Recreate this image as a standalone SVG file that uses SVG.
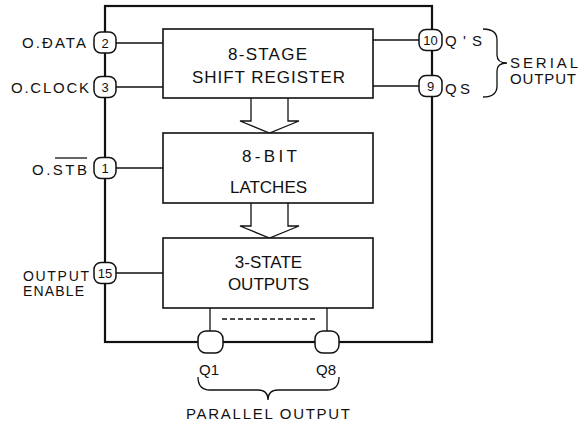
<svg xmlns="http://www.w3.org/2000/svg" width="580" height="429" viewBox="0 0 580 429">
<style>
text{font-family:"Liberation Sans",Arial,sans-serif;fill:#111;}
.t{font-size:17px;}
.c{font-size:17px;text-anchor:middle;}
.l{font-size:15px;}
.s{font-size:14px;}
.n{font-size:13px;text-anchor:middle;}
.box{fill:#fff;stroke:#111;stroke-width:1.6;}
.pin{fill:#fff;stroke:#111;stroke-width:1.5;}
.ln{fill:none;stroke:#111;stroke-width:1.3;}
.outer{fill:none;stroke:#111;stroke-width:2.2;}
</style>
<rect class="outer" x="105" y="6" width="327" height="336"/>
<g id="connectors">
<line class="ln" x1="116" y1="43" x2="163" y2="43"/>
<line class="ln" x1="116" y1="87" x2="163" y2="87"/>
<line class="ln" x1="116" y1="168" x2="163" y2="168"/>
<line class="ln" x1="116" y1="273" x2="163" y2="273"/>
<line class="ln" x1="373" y1="40" x2="419" y2="40"/>
<line class="ln" x1="373" y1="86" x2="419" y2="86"/>
<line class="ln" x1="210" y1="308" x2="210" y2="331"/>
<line class="ln" x1="327" y1="308" x2="327" y2="331"/>
<line class="ln" x1="222" y1="319" x2="315" y2="319" stroke-dasharray="5,3"/>
<path class="ln" fill="#fff" d="M251 98 V121 H240 L269.5 133 L299 121 H288 V98"/>
<path class="ln" fill="#fff" d="M251 203 V226 H240 L269.5 238 L299 226 H288 V203"/>
</g>
<g id="shift-register">
<rect class="box" x="163" y="29" width="210" height="69"/>
<text class="t" x="228" y="60" textLength="79">8-STAGE</text>
<text class="t" x="192" y="83" textLength="153">SHIFT REGISTER</text>
</g>
<g id="latches">
<rect class="box" x="163" y="133" width="210" height="70"/>
<text class="t" x="242" y="162" textLength="55">8-BIT</text>
<text class="c" x="268.5" y="193">LATCHES</text>
</g>
<g id="outputs">
<rect class="box" x="163" y="238" width="210" height="70"/>
<text class="c" x="268.5" y="268">3-STATE</text>
<text class="c" x="268.5" y="290">OUTPUTS</text>
</g>
<g id="pin2">
<rect class="pin" x="94" y="32" width="22" height="21" rx="7"/>
<text class="n" x="105" y="47.5">2</text>
<text class="l" x="22" y="48" textLength="64">O.ĐATA</text>
</g>
<g id="pin3">
<rect class="pin" x="94" y="76.5" width="22" height="21" rx="7"/>
<text class="n" x="105" y="92">3</text>
<text class="l" x="11" y="93" textLength="78">O.CLOCK</text>
</g>
<g id="pin1">
<rect class="pin" x="94" y="157.5" width="22" height="21" rx="7"/>
<text class="n" x="105" y="173">1</text>
<text class="l" x="32" y="175" textLength="55">O.STB</text>
<line class="ln" x1="55" y1="158" x2="87" y2="158"/>
</g>
<g id="pin15">
<rect class="pin" x="94" y="262.5" width="22" height="21" rx="7"/>
<text class="n" x="105" y="278">15</text>
<text class="s" x="23" y="281" textLength="66">OUTPUT</text>
<text class="s" x="23" y="296" textLength="61">ENABLE</text>
</g>
<g id="pin10">
<rect class="pin" x="419" y="29.5" width="23" height="21" rx="7"/>
<text class="n" x="430.5" y="45">10</text>
<text class="l" x="445" y="46" textLength="37">Q'S</text>
</g>
<g id="pin9">
<rect class="pin" x="419" y="75.5" width="23" height="21" rx="7"/>
<text class="n" x="430.5" y="91">9</text>
<text class="l" x="445" y="94" textLength="25">QS</text>
</g>
<g id="serial-output">
<path class="ln" d="M483 29 Q497 29 497 40 V55 Q497 63 507 63 Q497 63 497 71 V86 Q497 97 483 97"/>
<text class="l" x="510" y="68" textLength="68">SERIAL</text>
<text class="l" x="510" y="84" textLength="66">OUTPUT</text>
</g>
<g id="pinQ1">
<rect class="pin" x="198" y="331" width="25" height="22" rx="8"/>
<text class="l" x="199" y="375">Q1</text>
</g>
<g id="pinQ8">
<rect class="pin" x="315" y="331" width="24" height="22" rx="8"/>
<text class="l" x="316" y="375">Q8</text>
</g>
<g id="parallel-output">
<path class="ln" d="M198 377 Q198 390 210 390 H258 Q268 390 268 400 Q268 390 278 390 H327 Q339 390 339 377"/>
<text class="l" x="186" y="419" textLength="164">PARALLEL OUTPUT</text>
</g>
</svg>
